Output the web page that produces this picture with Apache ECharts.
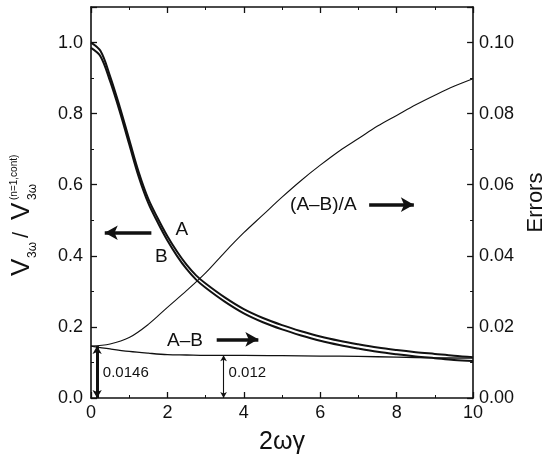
<!DOCTYPE html>
<html>
<head>
<meta charset="utf-8">
<script src="https://cdn.jsdelivr.net/npm/echarts@6/dist/echarts.min.js"></script>
<style>html,body{margin:0;padding:0;background:#fff;}#c{width:555px;height:460px;}</style>
</head>
<body>
<div id="c"></div>
<script>
// ---- data ----
const xAB = [0,0.25,0.5,0.75,1,1.25,1.5,1.75,2,2.25,2.5,2.75,3,3.5,4,4.5,5,5.5,6,6.5,7,7.5,8,8.5,9,9.5,10];
const valA = [1.000,0.976,0.905,0.820,0.727,0.635,0.560,0.505,0.455,0.412,0.375,0.345,0.322,0.283,0.250,0.225,0.205,0.188,0.173,0.161,0.151,0.142,0.135,0.129,0.124,0.119,0.115];
const valB = [0.985,0.961,0.891,0.807,0.714,0.622,0.548,0.493,0.443,0.400,0.363,0.333,0.310,0.271,0.238,0.213,0.193,0.176,0.161,0.149,0.139,0.130,0.123,0.117,0.112,0.107,0.104];
const xRatio = [0,0.5,1,1.5,2,2.5,3,3.5,4,4.5,5,5.5,6,6.5,7,7.5,8,8.5,9,9.5,10];
const valRatio = [0.0146,0.0152,0.0170,0.0207,0.0255,0.0302,0.0352,0.0410,0.0465,0.0515,0.0565,0.0612,0.0655,0.0695,0.0730,0.0765,0.0795,0.0825,0.0852,0.0877,0.0898];
const xDiff = [0,0.5,1,1.5,2,2.5,3,3.5,4,5,6,7,8,9,10];
const valDiff = [0.0146,0.0138,0.0131,0.0126,0.0122,0.0121,0.0120,0.0120,0.0120,0.0119,0.0118,0.0117,0.0115,0.0113,0.0112];
const xTicks = [0,2,4,6,8,10];
const leftTicks = ['0.0','0.2','0.4','0.6','0.8','1.0'];
const rightTicks = ['0.00','0.02','0.04','0.06','0.08','0.10'];
// annotation values (data coordinates)
const diffStart = 0.0146;   // A-B at 0
const diffMid = 0.012;      // A-B at 3.5
const diffMidX = 3.47;

const pairs = (xs, ys) => xs.map((x, i) => [x, ys[i]]);
const INK = '#111';
const FONT = 'Liberation Sans, Arial, sans-serif';

const chart = echarts.init(document.getElementById('c'), null, {renderer: 'canvas'});

const tickStyle = {show: true, inside: true, length: 6, lineStyle: {color: INK, width: 1.3}};
const minorStyle = {show: true, splitNumber: 2, length: 3, lineStyle: {color: INK, width: 1}};
const axisLine = {show: true, onZero: false, lineStyle: {color: INK, width: 1.6}};

const option = {
  animation: false,
  backgroundColor: '#fff',
  grid: {left: 91, right: 77, top: 7, bottom: 62, show: false},
  xAxis: [
    {type: 'value', min: 0, max: 10, interval: 2, position: 'bottom',
     axisLine: axisLine, axisTick: tickStyle, minorTick: minorStyle, splitLine: {show: false},
     axisLabel: {color: INK, fontSize: 18, fontFamily: FONT, margin: 6,
       formatter: v => { const i = xTicks.indexOf(v); return i >= 0 ? String(xTicks[i]) : ''; }},
     name: '2ωγ', nameLocation: 'middle', nameGap: 32,
     nameTextStyle: {color: INK, fontSize: 25, fontFamily: FONT}},
    {type: 'value', min: 0, max: 10, interval: 2, position: 'top',
     axisLine: axisLine, axisTick: tickStyle, minorTick: minorStyle, splitLine: {show: false},
     axisLabel: {show: false}}
  ],
  yAxis: [
    {type: 'value', min: 0, max: 1.1, interval: 0.2, position: 'left',
     axisLine: axisLine, axisTick: tickStyle, minorTick: minorStyle, splitLine: {show: false},
     axisLabel: {color: INK, fontSize: 18, fontFamily: FONT, margin: 8, showMaxLabel: false,
       formatter: v => { const i = Math.round(v / 0.2); return Math.abs(v - i * 0.2) < 1e-6 ? leftTicks[i] : ''; }}},
    {type: 'value', min: 0, max: 0.11, interval: 0.02, position: 'right',
     axisLine: axisLine, axisTick: tickStyle, minorTick: minorStyle, splitLine: {show: false},
     axisLabel: {color: INK, fontSize: 18, fontFamily: FONT, margin: 6, showMaxLabel: false,
       formatter: v => { const i = Math.round(v / 0.02); return Math.abs(v - i * 0.02) < 1e-7 ? rightTicks[i] : ''; }},
     name: 'Errors', nameLocation: 'middle', nameRotate: 90, nameGap: 45,
     nameTextStyle: {color: INK, fontSize: 22, fontFamily: FONT}}
  ],
  series: [
    {name: 'A', type: 'line', xAxisIndex: 0, yAxisIndex: 0, data: pairs(xAB, valA),
     smooth: 0.35, showSymbol: false, lineStyle: {color: INK, width: 2}, z: 3,
     markLine: {silent: true, animation: false, symbol: ['arrow', 'none'], symbolSize: [11, 13],
       lineStyle: {color: INK, width: 3.5, type: 'solid'}, label: {show: false},
       data: [
         [{coord: [0.36, 0.465]}, {coord: [1.58, 0.465]}],
         [{coord: [8.45, 0.544]}, {coord: [7.28, 0.544]}],
         [{coord: [4.38, 0.165]}, {coord: [3.29, 0.165]}]
       ]}},
    {name: 'B', type: 'line', xAxisIndex: 0, yAxisIndex: 0, data: pairs(xAB, valB),
     smooth: 0.35, showSymbol: false, lineStyle: {color: INK, width: 2}, z: 3},
    {name: '(A-B)/A', type: 'line', xAxisIndex: 0, yAxisIndex: 1, data: pairs(xRatio, valRatio),
     smooth: 0.35, showSymbol: false, lineStyle: {color: INK, width: 1.1}, z: 3},
    {name: 'A-B', type: 'line', xAxisIndex: 0, yAxisIndex: 1, data: pairs(xDiff, valDiff),
     smooth: 0.35, showSymbol: false, lineStyle: {color: INK, width: 1.3}, z: 3,
     markLine: {silent: true, animation: false, symbol: ['arrow', 'arrow'], label: {show: false},
       data: [
         [{coord: [0.16, 0], symbolSize: [7, 8], lineStyle: {width: 3, color: INK, type: 'solid'}},
          {coord: [0.16, diffStart], symbolSize: [7, 8]}],
         [{coord: [diffMidX, 0], symbolSize: [5, 6], lineStyle: {width: 1.1, color: INK, type: 'solid'}},
          {coord: [diffMidX, diffMid], symbolSize: [5, 6]}]
       ]}}
  ]
};
chart.setOption(option);

const P = (x, y, yi) => chart.convertToPixel({xAxisIndex: 0, yAxisIndex: yi || 0}, [x, y]);
const txt = (s, p, size, align) => ({type: 'text', x: p[0], y: p[1], silent: true,
  style: {text: s, font: size + 'px ' + FONT, fill: INK, align: align || 'left', verticalAlign: 'middle'}});

const pA = P(2.38, 0.473), pB = P(1.84, 0.398);
const pR = P(5.21, 0.544), pD = P(1.99, 0.162);
const p1 = P(0.31, 0.0072, 1), p2 = P(3.6, 0.0072, 1);

chart.setOption({graphic: [
  txt('A', pA, 19, 'center'),
  txt('B', pB, 19, 'center'),
  txt('(A–B)/A', pR, 19),
  txt('A–B', pD, 19),
  txt(String(diffStart), p1, 15),
  txt(String(diffMid), p2, 15),
  {type: 'group', x: 22, y: 276, rotation: Math.PI / 2, silent: true, children: [
    {type: 'text', x: 0, y: 0, style: {text: 'V', font: '26px ' + FONT, fill: INK, verticalAlign: 'middle'}},
    {type: 'text', x: 18, y: 11, style: {text: '3ω', font: '12px ' + FONT, fill: INK, verticalAlign: 'middle'}},
    {type: 'text', x: 38, y: 0, style: {text: '/', font: '22px ' + FONT, fill: INK, verticalAlign: 'middle'}},
    {type: 'text', x: 56, y: 0, style: {text: 'V', font: '26px ' + FONT, fill: INK, verticalAlign: 'middle'}},
    {type: 'text', x: 76, y: 11, style: {text: '3ω', font: '12px ' + FONT, fill: INK, verticalAlign: 'middle'}},
    {type: 'text', x: 76, y: -8, style: {text: '(n=1,cont)', font: '10px ' + FONT, fill: INK, verticalAlign: 'middle'}}
  ]}
]});
</script>
</body>
</html>
